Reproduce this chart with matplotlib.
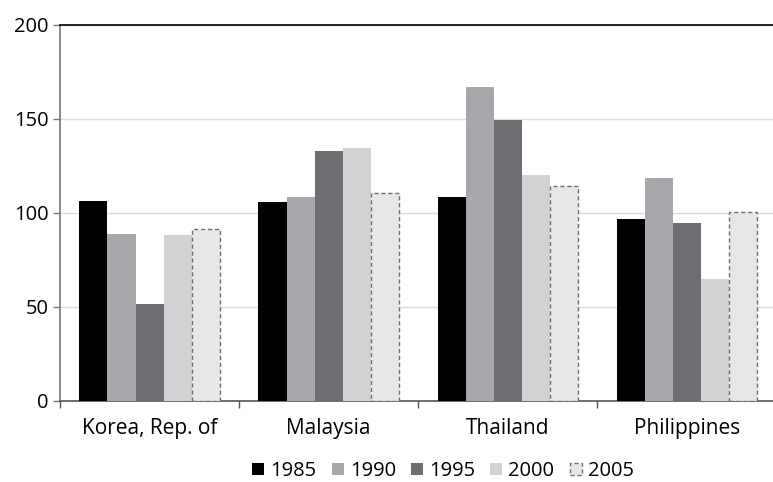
import matplotlib.pyplot as plt
import numpy as np

plt.rcParams['font.family'] = ['Open Sans', 'DejaVu Sans']

countries = ['Korea, Rep. of', 'Malaysia', 'Thailand', 'Philippines']
years = ['1985', '1990', '1995', '2000', '2005']
v1985 = [106.4, 105.7, 108.5, 96.8]
v1990 = [88.8, 108.5, 166.9, 118.8]
v1995 = [51.6, 132.8, 149.5, 94.8]
v2000 = [88.1, 134.7, 120.2, 64.7]
v2005 = [91.5, 110.5, 114.2, 100.4]
series = [v1985, v1990, v1995, v2000, v2005]

colors = ['#000000', '#a7a8ab', '#6d6e71', '#d1d2d4', '#e6e7e8']

fig = plt.figure(figsize=(7.73, 4.82), dpi=100)
ax = fig.add_axes([60 / 773, 1 - 401 / 482, 716.5 / 773, 376 / 482])

x = np.arange(len(countries))
w = 0.157
for i, (vals, c) in enumerate(zip(series, colors)):
    pos = x + (i - 2) * w
    if years[i] == '2005':
        ax.bar(pos, vals, w, color=c, edgecolor='#6d6e71', linestyle=(0, (3, 2)),
               linewidth=1, label=years[i], zorder=3)
    else:
        ax.bar(pos, vals, w, color=c, edgecolor='none', label=years[i], zorder=3)

ax.set_xlim(-0.5, 3.5)
ax.set_ylim(0, 200)
ax.set_yticks([0, 50, 100, 150, 200])
ax.yaxis.grid(True, color='#dcdcdc', linewidth=1, zorder=0)

ax.set_xticks(x)
ax.set_xticklabels(countries, fontsize=15)
ax.tick_params(axis='x', length=0, pad=12)
ax.set_xticks(np.arange(-0.5, 4, 1), minor=True)
ax.tick_params(axis='x', which='minor', length=5, color='#555555', width=1)
ax.tick_params(axis='y', labelsize=14.5, length=5, color='#777777', width=1, pad=3)

ax.spines['top'].set_color('#000000')
ax.spines['top'].set_linewidth(1.2)
ax.spines['right'].set_visible(False)
ax.spines['left'].set_color('#777777')
ax.spines['left'].set_linewidth(1.2)
ax.spines['bottom'].set_color('#555555')
ax.spines['bottom'].set_linewidth(1.2)

handles, labels = ax.get_legend_handles_labels()
fig.legend(handles, labels, loc='center', bbox_to_anchor=(443 / 773, 1 - 471 / 482),
           ncol=5, frameon=False, fontsize=14.5, handlelength=0.6, handleheight=0.6,
           handletextpad=0.3, columnspacing=0.75, borderpad=0)

fig.savefig('out.png', dpi=100)
